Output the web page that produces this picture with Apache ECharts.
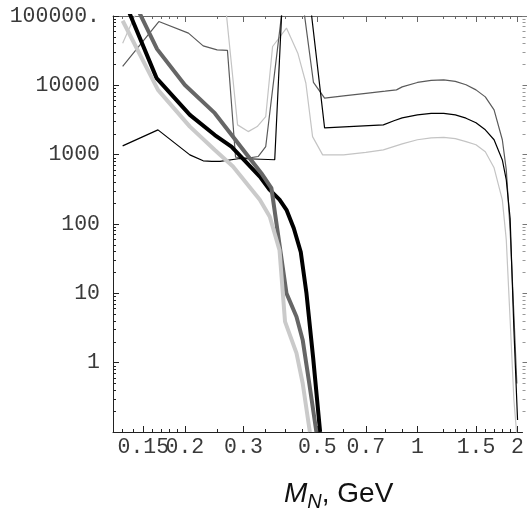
<!DOCTYPE html>
<html>
<head>
<meta charset="utf-8">
<script src="https://cdn.jsdelivr.net/npm/echarts@6/dist/echarts.min.js"></script>
<style>html,body{margin:0;padding:0;background:#fff}#c{width:527px;height:509px}</style>
</head>
<body>
<div id="c"></div>
<script>
// ---- axis ranges and ticks ----
const xRange = [0.1216, 2.07];
const yRange = [0.1, 100000];
const xMajorTicks = [0.15, 0.2, 0.3, 0.5, 0.7, 1, 1.5, 2];
const xTickLabels = ['0.15', '0.2', '0.3', '0.5', '0.7', '1', '1.5', '2'];
const xLabelsA = [0.2, 0.3, 0.5, 0.7, 1, 1.5, 2];   // drawn on the main axis
const xLabelsB = [0.15];                            // overlaps "0.2", drawn on its own axis
const xMinorTicks = [0.13, 0.14, 0.16, 0.17, 0.18, 0.19, 0.25, 0.35, 0.4, 0.45, 0.6, 0.8, 0.9, 1.2, 1.3, 1.4, 1.6, 1.7, 1.8, 1.9];
const yMajorTicks = [1, 10, 100, 1000, 10000, 100000];
const yTickLabels = ['1', '10', '100', '1000', '10000', '100000.'];
const yMinorTicks = [0.2, 0.3, 0.4, 0.5, 0.6, 0.7, 0.8, 0.9,
  2, 3, 4, 5, 6, 7, 8, 9,
  20, 30, 40, 50, 60, 70, 80, 90,
  200, 300, 400, 500, 600, 700, 800, 900,
  2000, 3000, 4000, 5000, 6000, 7000, 8000, 9000,
  20000, 30000, 40000, 50000, 60000, 70000, 80000, 90000];

// ---- series data [M_N (GeV), value] ----
const thinBlack = [[0.13,1340],[0.166,2280],[0.207,994],[0.227,815],[0.241,800],[0.255,800],[0.293,880],[0.3725,845],[0.394,250000],[0.43,400000],[0.47,260000],[0.526,2430],[0.79,2690],[0.85,3080],[0.9,3400],[1.0,3750],[1.1,3940],[1.2,3940],[1.3,3750],[1.4,3360],[1.5,2880],[1.6,2280],[1.7,1640],[1.8,840],[1.85,433],[1.9,120],[1.95,3],[2.0,0.149]];
const thinDark = [[0.13,18700],[0.167,83200],[0.205,56600],[0.227,37100],[0.25,32500],[0.2685,32000],[0.284,920],[0.31,890],[0.332,940],[0.35,1310],[0.40,270000],[0.45,190000],[0.487,11000],[0.526,6530],[0.6,7030],[0.7,7660],[0.8,8240],[0.865,8600],[0.9,9500],[1.0,11000],[1.1,11800],[1.2,12000],[1.3,11400],[1.4,10200],[1.5,8600],[1.6,6820],[1.7,4430],[1.8,1640],[1.85,604],[1.9,82],[1.95,4.9],[1.99,0.5]];
const thinLight = [[0.13,40600],[0.166,560000],[0.205,300000],[0.227,200000],[0.25,160000],[0.265,140000],[0.288,2690],[0.31,2150],[0.33,2540],[0.35,3550],[0.367,36300],[0.404,66900],[0.437,29100],[0.462,10800],[0.484,1820],[0.519,994],[0.6,994],[0.7,1080],[0.79,1175],[0.9,1430],[1.0,1640],[1.1,1750],[1.2,1780],[1.3,1700],[1.4,1545],[1.5,1390],[1.6,1100],[1.7,646],[1.8,223],[1.85,59],[1.9,4.1],[1.95,0.29],[1.99,0.09]];
const thickBlack = [[0.13,190000],[0.1644,12700],[0.207,3750],[0.246,1920],[0.276,1310],[0.336,483],[0.36,310],[0.385,225],[0.404,160],[0.425,87],[0.446,39.5],[0.464,10],[0.486,1.17],[0.51,0.1]];
const thickDark = [[0.13,350000],[0.165,33300],[0.2,10100],[0.246,3970],[0.3395,541],[0.364,329],[0.404,10],[0.433,4.6],[0.452,2.13],[0.473,0.505],[0.497,0.1]];
const thickLight = [[0.13,85500],[0.166,8600],[0.207,2540],[0.246,1170],[0.279,673],[0.336,223],[0.36,127],[0.385,42],[0.4,3.9],[0.433,1.37],[0.452,0.505],[0.475,0.1]];

function nearestLabel(ticks, labels, v) {
  let best = 0, bd = Infinity;
  for (let i = 0; i < ticks.length; i++) {
    const d = Math.abs(Math.log(v) - Math.log(ticks[i]));
    if (d < bd) { bd = d; best = i; }
  }
  return labels[best];
}

const FONT = 'Liberation Mono';
const frameColor = '#222';
const labelColor = '#3a3a3a';

function xAxisDef(pos, ticks, len, showLine, labelValues, lineColor) {
  return {
    type: 'log', position: pos, min: xRange[0], max: xRange[1],
    axisLine: { show: showLine, lineStyle: { color: lineColor, width: 1 } },
    axisTick: ticks ? { show: true, inside: true, length: len, customValues: ticks, lineStyle: { color: lineColor, width: 1 } } : { show: false },
    axisLabel: labelValues ? {
      show: true, customValues: labelValues, margin: 4, hideOverlap: false,
      showMinLabel: true, showMaxLabel: true,
      fontFamily: FONT, fontSize: 21.5, color: labelColor,
      formatter: v => nearestLabel(xMajorTicks, xTickLabels, v)
    } : { show: false },
    splitLine: { show: false }, minorTick: { show: false }
  };
}
function yAxisDef(pos, ticks, len, showLine, showLabel, lineColor, inside) {
  return {
    type: 'log', position: pos, min: yRange[0], max: yRange[1],
    axisLine: { show: showLine, lineStyle: { color: lineColor, width: 1 } },
    axisTick: { show: true, inside: inside, length: len, customValues: ticks, lineStyle: { color: lineColor, width: 1 } },
    axisLabel: showLabel ? {
      show: true, customValues: ticks, margin: 13, hideOverlap: false,
      showMinLabel: true, showMaxLabel: true,
      fontFamily: FONT, fontSize: 21.5, color: labelColor,
      formatter: v => nearestLabel(yMajorTicks, yTickLabels, v)
    } : { show: false },
    splitLine: { show: false }, minorTick: { show: false }
  };
}

function line(data, color, width) {
  return {
    type: 'line', data: data, xAxisIndex: 0, yAxisIndex: 0,
    showSymbol: false, symbol: 'none', smooth: false, clip: true,
    lineStyle: { color: color, width: width }, silent: true, animation: false
  };
}

const chart = echarts.init(document.getElementById('c'), null, { renderer: 'canvas' });
chart.setOption({
  animation: false,
  backgroundColor: '#fff',
  grid: { left: 113, right: 4, top: 16, bottom: 77, containLabel: false },
  title: {
    left: 279, top: 475,
    text: '{i|M}{s|N}{r|, GeV}',
    textStyle: {
      fontWeight: 'normal',
      rich: {
        i: { fontFamily: 'Liberation Sans', fontStyle: 'italic', fontWeight: 'normal', fontSize: 28, lineHeight: 32, color: '#111', verticalAlign: 'top' },
        s: { fontFamily: 'Liberation Sans', fontStyle: 'italic', fontWeight: 'normal', fontSize: 20, lineHeight: 16, color: '#111', verticalAlign: 'bottom' },
        r: { fontFamily: 'Liberation Sans', fontWeight: 'normal', fontSize: 28, lineHeight: 32, color: '#111', verticalAlign: 'top' }
      }
    }
  },
  xAxis: [
    xAxisDef('bottom', xMajorTicks, 6, true, xLabelsA, frameColor),
    xAxisDef('bottom', xMinorTicks, 3, false, null, frameColor),
    xAxisDef('top', xMajorTicks, 6, true, null, '#666'),
    xAxisDef('top', xMinorTicks, 3, false, null, '#666'),
    xAxisDef('bottom', null, 0, false, xLabelsB, frameColor)
  ],
  yAxis: [
    yAxisDef('left', yMajorTicks, 6, true, true, frameColor, true),
    yAxisDef('left', yMinorTicks, 3, false, false, frameColor, true),
    yAxisDef('right', yMajorTicks, 5, false, false, '#777', false),
    yAxisDef('right', yMinorTicks, 3, false, false, '#999', false)
  ],
  series: [
    line(thinLight, '#c4c4c4', 1.2),
    line(thinDark, '#5a5a5a', 1.2),
    line(thinBlack, '#000', 1.2),
    line(thickBlack, '#000', 4),
    line(thickDark, '#666', 4),
    line(thickLight, '#cacaca', 4)
  ]
});
</script>
</body>
</html>
